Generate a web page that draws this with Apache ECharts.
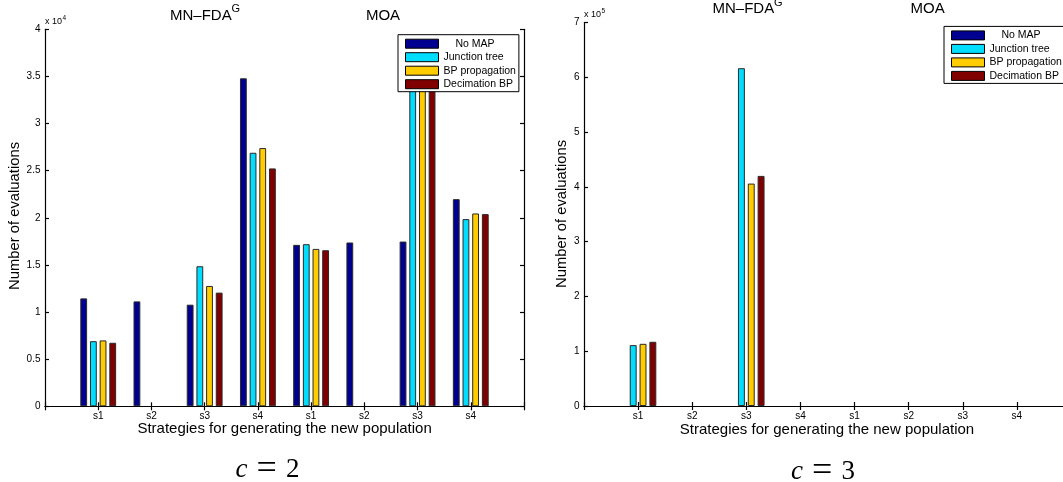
<!DOCTYPE html>
<html><head><meta charset="utf-8">
<script src="https://cdn.jsdelivr.net/npm/echarts@6/dist/echarts.min.js"></script>
<style>html,body{margin:0;padding:0;background:#fff}#c{width:1063px;height:482px}</style>
</head><body><div id="c"></div>
<script>
// ---------- data ----------
const categories = ['s1', 's2', 's3', 's4', 's1', 's2', 's3', 's4'];
const seriesNames = ['No MAP', 'Junction tree', 'BP propagation', 'Decimation BP'];
const seriesColors = ['#000090', '#00DDFF', '#FFCC00', '#800000'];

// c = 2 (number of evaluations)
const noMapC2    = [11450, 11130, 10780, 34800, 17130, 17380, 17480, 21980];
const junctionC2 = [6910, 0, 14860, 26900, 17200, 0, 38000, 19860];
const bpC2       = [6990, 0, 12770, 27400, 16700, 0, 37000, 20460];
const decimC2    = [6740, 0, 12060, 25240, 16560, 0, 37500, 20390];
const yTickLabelsC2 = ['0', '0.5', '1', '1.5', '2', '2.5', '3', '3.5', '4'];
const yMaxC2 = 40000, yStepC2 = 5000;

// c = 3
const noMapC3    = [0, 0, 0, 0, 0, 0, 0, 0];
const junctionC3 = [111100, 0, 616600, 0, 0, 0, 0, 0];
const bpC3       = [113500, 0, 406000, 0, 0, 0, 0, 0];
const decimC3    = [117200, 0, 420000, 0, 0, 0, 0, 0];
const yTickLabelsC3 = ['0', '1', '2', '3', '4', '5', '6', '7'];
const yMaxC3 = 700000, yStepC3 = 100000;

// ---------- chart ----------
const FONT = 'Liberation Sans, Arial, sans-serif';
const SERIF = 'Liberation Serif, Times New Roman, serif';
const xData = [''].concat(categories, ['']);
// zero-height bars get no outline so the baseline stays a clean line
const pad = arr => [null].concat(arr.map(v => v === 0 ? { value: 0, itemStyle: { borderWidth: 0 } } : v), [null]);
const lineStyle = { color: '#000', width: 1.2 };

function xAxes(gi) {
  return [
    { gridIndex: gi, type: 'category', data: xData, boundaryGap: false, position: 'bottom', z: 5,
      axisLine: { lineStyle }, axisTick: { inside: true, length: 4, interval: 0, lineStyle },
      axisLabel: { interval: 0, margin: 5, fontSize: 10, color: '#000', fontFamily: FONT },
      splitLine: { show: false } },
    { gridIndex: gi, type: 'category', data: xData, boundaryGap: false, position: 'top', z: 5,
      axisLine: { lineStyle }, axisTick: { inside: true, length: 4, interval: 0, lineStyle },
      axisLabel: { show: false }, splitLine: { show: false } }
  ];
}
function yAxes(gi, max, step, labels) {
  return [
    { gridIndex: gi, type: 'value', min: 0, max: max, interval: step, position: 'left', z: 5,
      axisLine: { show: true, lineStyle }, axisTick: { show: true, inside: true, length: 4, lineStyle },
      axisLabel: { margin: 4.5, fontSize: 10, color: '#000', fontFamily: FONT,
        formatter: (v) => labels[Math.round(v / step)] },
      splitLine: { show: false } },
    { gridIndex: gi, type: 'value', min: 0, max: max, interval: step, position: 'right', z: 5,
      axisLine: { show: true, lineStyle }, axisTick: { show: true, inside: true, length: 4, lineStyle },
      axisLabel: { show: false }, splitLine: { show: false } }
  ];
}
function barSeries(gi, dataSets) {
  return dataSets.map((d, i) => ({
    type: 'bar', name: seriesNames[i], xAxisIndex: gi * 2, yAxisIndex: gi * 2,
    data: pad(d), barWidth: '12.8%', barGap: '42%',
    itemStyle: { color: seriesColors[i], borderColor: '#2a2a2a', borderWidth: 1 },
    emphasis: { disabled: true }, animation: false
  }));
}
function legend(left, top) {
  return {
    left: left, top: top, orient: 'vertical', data: seriesNames, z: 10,
    icon: 'rect', itemWidth: 33, itemHeight: 9, itemGap: 2.5,
    padding: [3.5, 3, 2, 7], backgroundColor: '#fff', borderColor: '#000', borderWidth: 1, borderRadius: 0,
    itemStyle: { borderColor: '#000', borderWidth: 1 },
    textStyle: { fontSize: 10.5, color: '#000', fontFamily: FONT,
      rich: { p: { fontSize: 10.5, color: '#000', fontFamily: FONT, padding: [0, 0, 0, 12] } } },
    formatter: (n) => n === 'No MAP' ? '{p|' + n + '}' : n,
    selectedMode: false
  };
}
function txt(x, y, text, size, extra) {
  return Object.assign({ type: 'text', x: x, y: y, silent: true,
    style: Object.assign({ text: text, fontSize: size, fontFamily: FONT, fill: '#000',
      align: 'left', verticalAlign: 'middle' }, (extra && extra.style) || {}) },
    extra && extra.rotation !== undefined ? { rotation: extra.rotation } : {});
}
function cLabel(x, y, n) {
  return { type: 'text', x: x, y: y, silent: true,
    style: { text: '{i|c}{s|=}{n|' + n + '}', align: 'center', verticalAlign: 'middle', fill: '#000',
      fontFamily: SERIF, fontSize: 27,
      rich: {
        i: { fontFamily: SERIF, fontSize: 27, fontStyle: 'italic', fill: '#000' },
        s: { fontFamily: SERIF, fontSize: 36, fill: '#000', padding: [0, 9, 0, 9] },
        n: { fontFamily: SERIF, fontSize: 27, fill: '#000' }
      } } };
}

const option = {
  backgroundColor: '#fff',
  animation: false,
  grid: [
    { left: 45, top: 29.3, width: 479, height: 377, outerBoundsMode: 'none', containLabel: false },
    { left: 584, top: 22.5, width: 487, height: 383.5, outerBoundsMode: 'none', containLabel: false }
  ],
  xAxis: xAxes(0).concat(xAxes(1)),
  yAxis: yAxes(0, yMaxC2, yStepC2, yTickLabelsC2).concat(yAxes(1, yMaxC3, yStepC3, yTickLabelsC3)),
  legend: [legend(398, 34.7), legend(944, 26.4)],
  series: barSeries(0, [noMapC2, junctionC2, bpC2, decimC2])
    .concat(barSeries(1, [noMapC3, junctionC3, bpC3, decimC3])),
  graphic: [
    // left panel
    txt(170, 15.4, 'MN–FDA', 15),
    txt(231.5, 9.3, 'G', 11),
    txt(383, 15.4, 'MOA', 15, { style: { align: 'center' } }),
    txt(45, 21.5, 'x 10', 9),
    txt(62.5, 18, '4', 6.5),
    txt(15, 216, 'Number of evaluations', 14.8, { style: { align: 'center' }, rotation: Math.PI / 2 }),
    txt(284.6, 428.5, 'Strategies for generating the new population', 15, { style: { align: 'center' } }),
    cLabel(267.5, 470, '2'),
    // right panel
    txt(712.5, 8.6, 'MN–FDA', 15),
    txt(774, 2.5, 'G', 11),
    txt(927.7, 8.6, 'MOA', 15, { style: { align: 'center' } }),
    txt(584, 14.8, 'x 10', 9),
    txt(601.5, 11.3, '5', 6.5),
    txt(562, 214, 'Number of evaluations', 14.8, { style: { align: 'center' }, rotation: Math.PI / 2 }),
    txt(827, 430, 'Strategies for generating the new population', 15, { style: { align: 'center' } }),
    cLabel(823, 472, '3')
  ]
};
const chart = echarts.init(document.getElementById('c'), null, { renderer: 'canvas' });
chart.setOption(option);
</script>
</body></html>
